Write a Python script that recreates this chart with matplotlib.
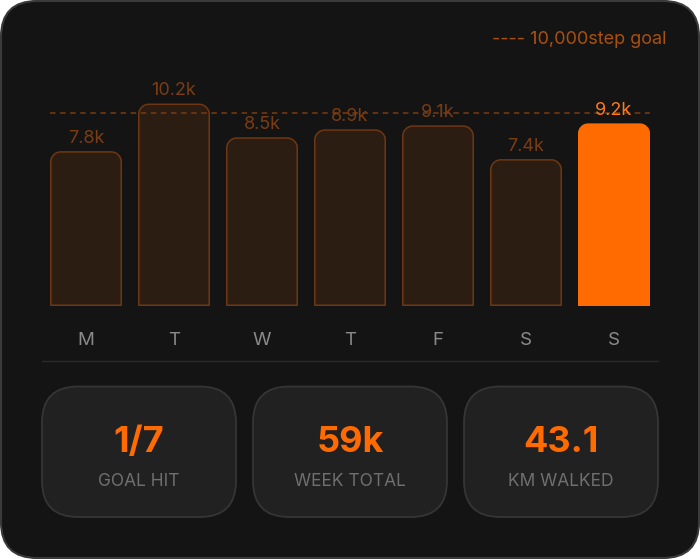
import matplotlib
matplotlib.use("Agg")
import matplotlib.pyplot as plt
from matplotlib.patches import FancyBboxPatch, PathPatch
from matplotlib.path import Path

plt.rcParams['font.family'] = ['Inter', 'DejaVu Sans']

# data
days = ['M', 'T', 'W', 'T', 'F', 'S', 'S']
steps = [7800, 10200, 8500, 8900, 9100, 7400, 9200]
step_labels = ['7.8k', '10.2k', '8.5k', '8.9k', '9.1k', '7.4k', '9.2k']
today = 6
goal_text = '---- 10,000step goal'
goal_line_level = 9720   # where the reference draws its dashed goal line
stat_values = ['1/7', '59k', '43.1']
stat_labels = ['GOAL HIT', 'WEEK TOTAL', 'KM WALKED']

# colours
bg = '#141414'
orange = '#ff6b00'
dim_fill = '#2c1d13'
dim_edge = '#6e3712'
dim_text = '#7a3c13'
legend_col = '#a94f10'

W, H = 700, 559
fig = plt.figure(figsize=(W / 100, H / 100), dpi=100)
fig.patch.set_facecolor('white')

# background axes in pixel units
bax = fig.add_axes([0, 0, 1, 1])
bax.set_xlim(0, W)
bax.set_ylim(H, 0)
bax.axis('off')
bax.add_patch(FancyBboxPatch((1, 1), W - 2, H - 2,
                             boxstyle='round,pad=0,rounding_size=36',
                             fc=bg, ec='#3a3a3a', lw=1.5))
bax.text(667, 44, goal_text, ha='right', va='baseline', fontsize=13, color=legend_col)
bax.plot([42, 658], [360.5, 360.5], color='#2a2a2a', lw=1)

card_x = [42, 253, 464]
for cx, val, lab in zip(card_x, stat_values, stat_labels):
    bax.add_patch(FancyBboxPatch((cx, 386.5), 194, 130.5,
                                 boxstyle='round,pad=0,rounding_size=36',
                                 fc='#212121', ec='#353535', lw=1.3))
    bax.text(cx + 97, 452, val, ha='center', va='baseline', fontsize=26,
             fontweight='bold', color=orange)
    bax.text(cx + 97, 485.5, lab, ha='center', va='baseline', fontsize=12.5,
             color='#6f6f6f')

# bar chart axes
px_per_x = 88.0
px_per_step = 0.01985
ymax = 12400
ax_h = ymax * px_per_step
ax = fig.add_axes([42 / W, (H - 306) / H, 616 / W, ax_h / H])
ax.set_xlim(-0.5, len(days) - 0.5)
ax.set_ylim(0, ymax)
ax.patch.set_alpha(0)
ax.axis('off')

bars = ax.bar(range(len(days)), steps, width=72 / px_per_x)
rx = 10 / px_per_x
ry = 10 / px_per_step
k = 0.5523


def top_rounded(x0, x1, y0, y1):
    verts = [(x0, y0), (x0, y1 - ry),
             (x0, y1 - ry + k * ry), (x0 + rx - k * rx, y1), (x0 + rx, y1),
             (x1 - rx, y1),
             (x1 - rx + k * rx, y1), (x1, y1 - ry + k * ry), (x1, y1 - ry),
             (x1, y0), (x0, y0)]
    codes = [Path.MOVETO, Path.LINETO,
             Path.CURVE4, Path.CURVE4, Path.CURVE4,
             Path.LINETO,
             Path.CURVE4, Path.CURVE4, Path.CURVE4,
             Path.LINETO, Path.CLOSEPOLY]
    return Path(verts, codes)


for i, b in enumerate(bars):
    x0, y0 = b.get_x(), b.get_y()
    x1, y1 = x0 + b.get_width(), y0 + b.get_height()
    b.set_visible(False)
    if i == today:
        p = PathPatch(top_rounded(x0, x1, y0, y1), fc=orange, ec='none', zorder=2)
        tc = '#ff7a1a'
    else:
        inset = 0.75 / px_per_x
        p = PathPatch(top_rounded(x0 + inset, x1 - inset, y0 + 0.75 / px_per_step,
                                  y1 - 0.75 / px_per_step),
                      fc=dim_fill, ec=dim_edge, lw=1.1, zorder=2)
        tc = dim_text
    ax.add_patch(p)
    ax.annotate(step_labels[i], (b.get_x() + b.get_width() / 2, y1),
                xytext=(0, 8.4 * 0.72), textcoords='offset points',
                ha='center', va='baseline', fontsize=13, color=tc, zorder=4)
    ax.text(b.get_x() + b.get_width() / 2, -39 / ax_h, days[i],
            transform=ax.get_xaxis_transform(), ha='center', va='baseline',
            fontsize=13.5, color='#8a8a8a')

ax.hlines(goal_line_level, bars[0].get_x(), bars[-1].get_x() + bars[-1].get_width(),
          colors='#7a3a10', lw=1.1, linestyles=(0, (3.6, 3.0)), zorder=3)

fig.savefig('out.png', dpi=100, facecolor=fig.get_facecolor())
